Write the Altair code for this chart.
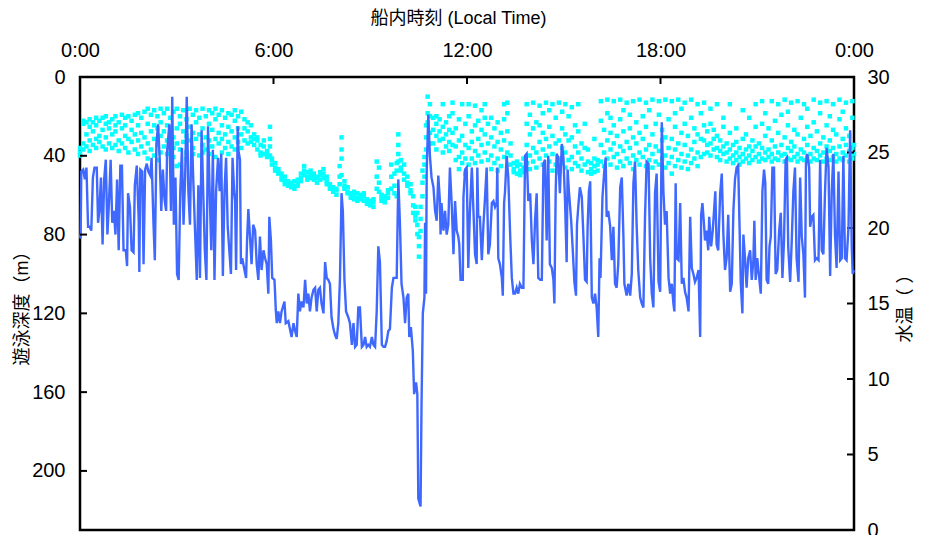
import altair as alt
import pandas as pd

# ---- data (hour of day, swimming depth in m) ----
DEPTH_SAMPLES = [
    (0.00, 80), (0.02, 82), (0.04, 48), (0.10, 47), (0.15, 52), (0.20, 46), (0.25, 76), (0.30, 76),
    (0.35, 78), (0.40, 51), (0.45, 46), (0.52, 46), (0.56, 74), (0.60, 68), (0.65, 51), (0.70, 85),
    (0.75, 52), (0.80, 42), (0.85, 80), (0.90, 63), (0.95, 42), (1.00, 74), (1.05, 68), (1.10, 80),
    (1.15, 52), (1.20, 88), (1.25, 45), (1.30, 45), (1.35, 88), (1.42, 88), (1.46, 96), (1.49, 59),
    (1.55, 66), (1.60, 88), (1.66, 89), (1.70, 55), (1.76, 45), (1.82, 72), (1.84, 99), (1.87, 47),
    (1.93, 48), (1.97, 95), (2.02, 47), (2.07, 44), (2.12, 48), (2.18, 50), (2.22, 41), (2.28, 75),
    (2.32, 93), (2.37, 34), (2.42, 24), (2.47, 41), (2.52, 68), (2.57, 47), (2.62, 62), (2.67, 68),
    (2.70, 38), (2.77, 24), (2.82, 68), (2.86, 10), (2.91, 75), (2.96, 51), (3.01, 100), (3.06, 103),
    (3.11, 58), (3.16, 36), (3.21, 75), (3.26, 51), (3.31, 10), (3.36, 58), (3.41, 75), (3.46, 24),
    (3.51, 51), (3.56, 75), (3.62, 103), (3.67, 55), (3.72, 102), (3.77, 27), (3.82, 58), (3.87, 88),
    (3.92, 103), (3.97, 25), (4.02, 58), (4.07, 88), (4.12, 37), (4.17, 103), (4.22, 58), (4.28, 41),
    (4.33, 58), (4.38, 39), (4.43, 101), (4.48, 58), (4.53, 41), (4.58, 76), (4.63, 88), (4.68, 100),
    (4.73, 41), (4.78, 58),
    (4.81, 63), (4.84, 98), (4.89, 25), (4.91, 37), (4.96, 42), (4.99, 95), (5.03, 92), (5.10, 98),
    (5.15, 102), (5.18, 83), (5.22, 67), (5.27, 81), (5.32, 95), (5.37, 75), (5.43, 78), (5.48, 95),
    (5.53, 103), (5.58, 81), (5.63, 98), (5.69, 88), (5.74, 92), (5.79, 95), (5.84, 110), (5.87, 71),
    (5.92, 83), (5.96, 102), (6.03, 103), (6.05, 110), (6.07, 118), (6.10, 125), (6.15, 119), (6.20, 125),
    (6.25, 119), (6.34, 114), (6.38, 125), (6.46, 124), (6.51, 128), (6.56, 132), (6.62, 125), (6.67, 129),
    (6.72, 132), (6.77, 110), (6.82, 119), (6.87, 114), (6.93, 117), (6.98, 103), (7.03, 115), (7.08, 110),
    (7.13, 119), (7.18, 112), (7.24, 108), (7.29, 107), (7.34, 119), (7.39, 108), (7.44, 107), (7.49, 115),
    (7.55, 120), (7.60, 94), (7.65, 102), (7.70, 103), (7.75, 105), (7.80, 122), (7.86, 128), (7.91, 131),
    (7.96, 133), (8.01, 125), (8.06, 103), (8.11, 59), (8.15, 68), (8.20, 103), (8.25, 119), (8.32, 122),
    (8.37, 125), (8.43, 136), (8.48, 125), (8.53, 137), (8.58, 136), (8.63, 117), (8.68, 117), (8.74, 137),
    (8.79, 136), (8.84, 132), (8.89, 137), (8.94, 136), (8.99, 137), (9.05, 132), (9.10, 136), (9.15, 137),
    (9.20, 119), (9.25, 86), (9.30, 94), (9.36, 136), (9.41, 137), (9.46, 137), (9.51, 134), (9.56, 129),
    (9.61, 128), (9.67, 107), (9.72, 102), (9.77, 102),
    (9.82, 102), (9.87, 52), (9.92, 74), (9.97, 105), (10.03, 112), (10.08, 125), (10.13, 112), (10.18, 110),
    (10.21, 132), (10.26, 127), (10.32, 139), (10.36, 161), (10.42, 155), (10.46, 161), (10.49, 214),
    (10.56, 218), (10.59, 166), (10.63, 120), (10.68, 112), (10.70, 74), (10.73, 110), (10.75, 48),
    (10.80, 19), (10.85, 40), (10.90, 51), (10.96, 56), (11.01, 68), (11.06, 73), (11.11, 50), (11.16, 63),
    (11.18, 80), (11.21, 64), (11.27, 78), (11.32, 68), (11.37, 80), (11.42, 75), (11.47, 46), (11.53, 66),
    (11.58, 90), (11.63, 63), (11.68, 78), (11.73, 81), (11.76, 85), (11.80, 103), (11.87, 103), (11.89, 61),
    (11.94, 47), (11.99, 46), (12.04, 97), (12.09, 68), (12.15, 46), (12.20, 68), (12.25, 90), (12.30, 95),
    (12.32, 46), (12.35, 71), (12.40, 71), (12.46, 93), (12.51, 75), (12.56, 61), (12.61, 46), (12.66, 90),
    (12.71, 85), (12.77, 64), (12.82, 63), (12.87, 66), (12.92, 64), (12.94, 46), (12.97, 92), (13.02, 95),
    (13.08, 102), (13.11, 111), (13.15, 64), (13.18, 58), (13.23, 40), (13.28, 51), (13.34, 81), (13.39, 102),
    (13.44, 110), (13.49, 110), (13.54, 107), (13.59, 110), (13.64, 105), (13.70, 107), (13.75, 107),
    (13.80, 40), (13.85, 39), (13.90, 63), (13.96, 59), (14.01, 83), (14.06, 95), (14.11, 73), (14.16, 59),
    (14.21, 102), (14.27, 103), (14.32, 103), (14.37, 44), (14.42, 42), (14.47, 83), (14.52, 40),
    (14.57, 95), (14.63, 97), (14.68, 103), (14.71, 115), (14.75, 58), (14.78, 39), (14.83, 41), (14.88, 59),
    (14.94, 34), (14.99, 41), (15.04, 63), (15.09, 94), (15.12, 47), (15.16, 58), (15.23, 73), (15.28, 88),
    (15.33, 104), (15.38, 111), (15.41, 75), (15.45, 66), (15.50, 56), (15.56, 61), (15.61, 81), (15.66, 103),
    (15.71, 104), (15.74, 76), (15.78, 58), (15.82, 53), (15.87, 112), (15.92, 115), (15.97, 110), (16.02, 117),
    (16.07, 132), (16.11, 92), (16.14, 102), (16.20, 61), (16.26, 47), (16.30, 41), (16.33, 71), (16.38, 68),
    (16.44, 76), (16.49, 93), (16.54, 76), (16.59, 105), (16.64, 107), (16.69, 95), (16.75, 56), (16.80, 51),
    (16.85, 81), (16.88, 105), (16.95, 111), (17.00, 105), (17.06, 111), (17.11, 100), (17.16, 54), (17.21, 43),
    (17.26, 75), (17.31, 98), (17.37, 112), (17.42, 115), (17.47, 117), (17.52, 71), (17.57, 43), (17.63, 44),
    (17.68, 92), (17.73, 110), (17.78, 117), (17.83, 59), (17.88, 49), (17.94, 104), (17.99, 109), (18.04, 23),
    (18.09, 58), (18.14, 75), (18.19, 68), (18.25, 102), (18.30, 110), (18.35, 105), (18.40, 115), (18.43, 119),
    (18.47, 54), (18.50, 92), (18.56, 93), (18.61, 64), (18.66, 105), (18.71, 102), (18.76, 109), (18.81, 112),
    (18.87, 119), (18.92, 71), (18.97, 97), (19.02, 100), (19.07, 104), (19.12, 102), (19.18, 98), (19.23, 132),
    (19.26, 70),
    (19.30, 64), (19.35, 75), (19.38, 83), (19.43, 78), (19.48, 88), (19.51, 71), (19.57, 86), (19.62, 78),
    (19.66, 68), (19.70, 58), (19.74, 85), (19.79, 88), (19.85, 59), (19.90, 49), (19.95, 80), (20.00, 98),
    (20.05, 92), (20.10, 70), (20.16, 109), (20.21, 105), (20.26, 68), (20.31, 52), (20.36, 46), (20.41, 45),
    (20.45, 75), (20.49, 105), (20.54, 120), (20.57, 80), (20.62, 92), (20.67, 107), (20.72, 92), (20.78, 88),
    (20.83, 103), (20.88, 93), (20.91, 73), (20.95, 103), (21.00, 92), (21.06, 102), (21.11, 110), (21.16, 58),
    (21.21, 47), (21.25, 54), (21.29, 103), (21.34, 105), (21.38, 86), (21.42, 81), (21.47, 46), (21.52, 46),
    (21.57, 100), (21.62, 98), (21.68, 78), (21.73, 69), (21.78, 102), (21.83, 83), (21.88, 42), (21.92, 41),
    (21.96, 86), (22.02, 104), (22.07, 83), (22.12, 58), (22.17, 46), (22.22, 92), (22.28, 104), (22.33, 51),
    (22.38, 81), (22.43, 90), (22.48, 112), (22.51, 44), (22.55, 39), (22.61, 46), (22.64, 76), (22.69, 71),
    (22.74, 70), (22.79, 93), (22.84, 92), (22.90, 93), (22.95, 42), (23.00, 88), (23.05, 90), (23.10, 59),
    (23.15, 36), (23.21, 46), (23.26, 101), (23.31, 58), (23.36, 39), (23.41, 80), (23.46, 97), (23.52, 48),
    (23.57, 93), (23.62, 92), (23.67, 40), (23.72, 92), (23.77, 93), (23.83, 76), (23.88, 27), (23.93, 86),
    (23.96, 100), (24.00, 98),
]

# ---- water temperature samples (hour of day, readings in deg C) ----
TEMP_SAMPLES = [
    (0.00, [25.0, 25.3, 24.8]), (0.10, [25.2, 26.9, 27.1, 25.6]), (0.20, [26.2, 27.0, 25.4]),
    (0.30, [25.8, 26.7, 27.2, 25.1]), (0.40, [26.4, 27.0, 25.5]), (0.50, [25.9, 26.8, 27.3, 25.3]),
    (0.60, [26.1, 27.1, 25.7]), (0.70, [25.4, 26.5, 27.3]), (0.80, [26.0, 26.9, 25.2, 27.4]),
    (0.90, [25.6, 26.6, 27.0]), (1.00, [25.3, 26.2, 27.2]), (1.10, [26.4, 25.5, 27.4, 26.8]),
    (1.20, [25.8, 27.0, 25.1]), (1.30, [26.6, 27.5, 25.6]), (1.40, [25.3, 26.1, 27.3, 26.8]),
    (1.50, [25.9, 27.4, 25.0]), (1.60, [26.5, 27.1, 25.7]), (1.70, [25.2, 26.2, 27.5]),
    (1.80, [25.8, 26.8, 27.6, 24.9]), (1.90, [26.3, 27.3, 25.4]), (2.00, [25.0, 26.0, 27.7]),
    (2.10, [25.6, 26.9, 27.9, 24.6]), (2.20, [26.4, 27.5, 25.2]), (2.30, [24.8, 25.9, 27.8, 26.8]),
    (2.40, [25.5, 26.6, 27.4, 24.5]), (2.50, [26.1, 27.0, 27.9, 25.0]), (2.60, [25.4, 26.4, 27.6]),
    (2.70, [24.9, 26.8, 27.9, 25.8]), (2.80, [25.5, 26.3, 27.3]), (2.90, [24.7, 26.0, 27.7, 25.3]),
    (3.00, [24.1, 25.6, 26.6, 27.9]), (3.10, [24.2, 25.2, 26.9, 27.4]), (3.20, [25.7, 26.4, 27.8]),
    (3.30, [25.0, 26.1, 27.2, 24.6]), (3.40, [25.8, 26.7, 27.9]), (3.50, [25.3, 26.3, 27.5, 24.9]),
    (3.60, [25.9, 27.0, 27.8]), (3.70, [24.8, 26.2, 27.3]), (3.80, [25.5, 26.6, 27.9, 25.0]),
    (3.90, [25.2, 26.0, 27.4]), (4.00, [24.9, 25.8, 26.9, 27.8]), (4.10, [25.4, 26.5, 27.6]),
    (4.20, [24.7, 25.9, 27.2, 27.9]), (4.30, [25.6, 26.3, 27.5]), (4.40, [25.0, 26.8, 27.8, 25.9]),
    (4.50, [25.3, 26.2, 27.3]), (4.60, [24.9, 25.7, 26.7, 27.6]), (4.70, [25.4, 26.4, 27.5]),
    (4.80, [25.2, 26.0, 27.1, 27.8]), (4.90, [25.7, 26.6, 27.4]), (5.00, [25.3, 26.2, 27.7]),
    (5.10, [25.8, 26.6, 27.2]), (5.20, [25.6, 26.4, 27.0]), (5.30, [26.0, 26.8, 25.7]),
    (5.40, [25.5, 26.2, 25.9]), (5.50, [25.2, 25.8, 26.0]), (5.60, [25.0, 25.5, 24.8]),
    (5.70, [24.9, 25.4, 25.8]), (5.80, [24.7, 25.1, 24.9]), (5.89, [26.7, 25.9, 25.4, 24.8]),
    (5.95, [24.6, 24.2, 24.5]), (6.05, [24.0, 23.8, 24.3]), (6.15, [23.7, 23.9, 23.6]),
    (6.25, [23.4, 23.6, 23.2]), (6.35, [23.1, 23.4, 22.9]), (6.45, [22.8, 23.1, 22.9]),
    (6.55, [22.7, 22.9, 23.0]), (6.65, [22.8, 23.1, 22.6]), (6.75, [23.0, 23.2, 22.8]),
    (6.85, [23.3, 23.6, 23.1]), (6.95, [23.5, 23.8, 24.1]), (7.05, [23.4, 23.7, 23.2]),
    (7.15, [23.5, 23.3, 23.8]), (7.25, [23.2, 23.6, 23.4]), (7.35, [23.0, 23.4, 23.3]),
    (7.45, [23.5, 23.2, 23.7]), (7.55, [23.6, 23.3, 23.9]), (7.65, [23.1, 22.9, 23.4]),
    (7.75, [22.8, 22.6, 22.9]), (7.85, [22.4, 22.7, 22.5]), (7.95, [22.2, 22.5, 22.6]),
    (8.05, [22.9, 23.4, 24.1]), (8.11, [26.0, 25.2, 24.6, 23.5]), (8.20, [22.8, 23.1, 22.6]),
    (8.30, [22.4, 22.7, 22.3]), (8.40, [22.1, 22.3, 22.0]), (8.50, [22.2, 21.9, 22.4]),
    (8.60, [22.0, 22.3, 21.8]), (8.70, [21.9, 22.2, 22.0]), (8.80, [22.1, 21.8, 22.3]),
    (8.90, [21.6, 21.9, 21.7]), (9.00, [21.5, 21.8, 21.6]), (9.10, [21.4, 21.7, 21.9]),
    (9.20, [22.6, 23.4, 24.4]), (9.27, [23.0, 24.0, 22.4]), (9.35, [22.0, 21.8, 22.2]),
    (9.45, [21.9, 22.1, 21.7]), (9.55, [22.3, 22.0, 22.5]), (9.65, [23.4, 24.2, 22.6]),
    (9.75, [22.3, 22.8, 23.6]), (9.82, [23.8, 24.3, 22.1]), (9.87, [26.2, 25.5, 24.9, 24.4]),
    (9.95, [24.0, 23.8, 24.5]), (10.05, [23.6, 24.2, 23.2]), (10.15, [23.0, 22.8, 23.4]),
    (10.25, [22.5, 22.9, 22.3]), (10.33, [22.1, 21.5, 21.0]), (10.40, [20.8, 21.4, 20.5]),
    (10.46, [19.6, 20.2, 21.0]), (10.51, [18.1, 18.8, 19.4]), (10.56, [21.4, 20.6, 19.8]),
    (10.62, [22.1, 23.0, 23.8]), (10.68, [24.7, 24.2, 23.4]), (10.73, [25.2, 26.0, 26.8]),
    (10.78, [27.6, 28.7, 27.0]), (10.85, [28.2, 27.4, 26.3, 25.6]), (10.95, [25.6, 26.5, 27.3]),
    (11.05, [25.2, 26.1, 26.9, 27.4]), (11.15, [25.8, 26.4, 27.2]), (11.25, [25.0, 25.9, 26.7, 28.2]),
    (11.35, [25.4, 26.2, 27.0]), (11.45, [25.1, 25.7, 26.5, 27.4]), (11.55, [25.5, 26.3, 27.6, 28.3]),
    (11.65, [24.5, 25.4, 26.6]), (11.75, [23.9, 24.7, 25.8, 27.2]), (11.85, [24.3, 25.0, 26.1, 28.2]),
    (11.95, [23.6, 24.6, 25.5, 26.9]), (12.05, [24.2, 25.3, 27.4, 28.2]), (12.15, [24.6, 25.7, 26.4]),
    (12.25, [24.3, 25.1, 26.8, 28.1]), (12.35, [24.8, 25.9, 27.1]), (12.45, [24.4, 25.5, 26.5, 27.8]),
    (12.55, [25.0, 26.2, 27.3, 28.2]), (12.65, [24.5, 25.6, 26.9]), (12.75, [23.9, 24.8, 26.0, 27.3]),
    (12.85, [24.3, 25.4, 26.6]), (12.95, [23.8, 24.6, 25.7, 27.0]), (13.05, [24.1, 25.2, 26.3]),
    (13.15, [24.7, 25.8, 27.2, 28.2]), (13.25, [25.0, 26.4, 27.6, 28.3]), (13.35, [24.2, 24.8, 25.6]),
    (13.45, [23.9, 24.3, 23.7]), (13.55, [23.6, 24.1, 24.4]), (13.65, [23.8, 24.2, 23.5]),
    (13.75, [24.0, 24.6, 23.7]), (13.85, [24.3, 25.5, 26.9, 28.2]), (13.95, [23.9, 24.8, 26.2, 27.5]),
    (14.05, [24.4, 25.3, 26.6, 28.3]), (14.15, [24.0, 25.0, 27.0]), (14.25, [24.6, 25.7, 26.8, 28.1]),
    (14.35, [24.2, 25.2, 26.3, 27.6]), (14.45, [24.8, 25.9, 28.3]), (14.55, [24.4, 25.4, 26.7, 27.8]),
    (14.65, [23.8, 24.9, 26.1, 28.2]), (14.75, [24.2, 25.6, 27.3]), (14.85, [23.7, 24.6, 25.8, 28.3]),
    (14.95, [24.3, 25.3, 26.6, 27.7]), (15.05, [24.0, 25.0, 26.2, 28.2]), (15.15, [24.5, 25.8, 27.4]),
    (15.25, [23.9, 24.7, 26.0, 28.0]), (15.35, [24.3, 25.4, 26.8]), (15.45, [24.1, 25.0, 26.4, 28.2]),
    (15.55, [23.8, 24.6, 25.6]), (15.65, [24.2, 25.3, 26.9]), (15.75, [23.7, 24.4, 25.2]),
    (15.85, [23.6, 23.9, 24.3]), (15.95, [23.7, 24.1, 24.6, 25.9]), (16.05, [23.8, 24.2, 24.5]),
    (16.15, [24.4, 25.5, 27.1, 28.4]), (16.25, [24.1, 25.0, 26.5]), (16.35, [24.6, 25.8, 27.6, 28.5]),
    (16.45, [24.2, 25.2, 26.3, 27.3]), (16.55, [24.7, 25.6, 26.8, 28.4]), (16.65, [24.0, 24.9, 26.1]),
    (16.75, [24.4, 25.4, 27.2, 28.5]), (16.85, [24.1, 25.1, 26.4, 27.8]), (16.95, [24.6, 25.7, 28.3]),
    (17.05, [24.3, 25.3, 26.6, 27.5]), (17.15, [23.9, 24.8, 26.0, 28.4]), (17.25, [24.5, 25.6, 27.0]),
    (17.35, [24.2, 25.0, 26.3, 28.5]), (17.45, [24.7, 25.9, 27.4]), (17.55, [24.1, 25.2, 26.7, 28.3]),
    (17.65, [24.5, 25.5, 27.8]), (17.75, [24.0, 24.9, 26.2, 28.5]), (17.85, [24.4, 25.4, 26.9]),
    (17.95, [24.2, 25.1, 27.5, 28.4]), (18.05, [24.6, 25.8, 26.5]), (18.15, [24.0, 24.8, 26.0, 28.5]),
    (18.25, [24.3, 25.3, 27.2]), (18.35, [23.6, 24.7, 25.9, 28.4]), (18.45, [24.1, 25.2, 26.7, 27.6]),
    (18.55, [24.5, 25.6, 28.5]), (18.65, [24.0, 24.9, 26.3, 27.9]), (18.75, [24.4, 25.5, 26.9, 28.3]),
    (18.85, [23.9, 24.8, 26.1]), (18.95, [24.3, 25.2, 27.3, 28.5]), (19.05, [24.6, 25.7, 26.6]),
    (19.15, [24.1, 25.0, 26.2, 28.2]), (19.25, [24.7, 25.9, 27.6]), (19.35, [24.9, 25.8, 26.8, 28.3]),
    (19.45, [25.0, 25.5, 26.4]), (19.55, [24.8, 25.6, 26.9, 27.9]), (19.65, [25.2, 25.9, 26.5]),
    (19.75, [24.7, 25.3, 26.1, 28.2]), (19.85, [24.5, 25.1, 25.8]), (19.95, [24.9, 25.4, 26.7, 27.3]),
    (20.05, [24.4, 25.0, 25.6]), (20.15, [24.6, 25.2, 26.3, 28.2]), (20.25, [24.3, 24.8, 25.5]),
    (20.35, [24.5, 25.0, 25.7, 26.6]), (20.45, [24.2, 24.7, 25.3]), (20.55, [24.4, 24.9, 25.9, 27.8]),
    (20.65, [24.6, 25.2, 26.2]), (20.75, [24.3, 24.8, 25.4, 27.3]), (20.85, [24.5, 25.1, 25.8]),
    (20.95, [24.7, 25.4, 26.7, 28.2]), (21.05, [24.4, 24.9, 25.6]), (21.15, [24.6, 25.3, 26.9, 28.4]),
    (21.25, [24.5, 25.0, 26.1, 27.6]), (21.35, [24.7, 25.2, 26.6]), (21.45, [24.4, 24.9, 25.8, 28.4]),
    (21.55, [24.6, 25.4, 27.1]), (21.65, [24.5, 25.0, 26.3, 28.2]), (21.75, [24.8, 25.5, 27.5]),
    (21.85, [24.4, 24.9, 26.0, 28.5]), (21.95, [24.6, 25.3, 26.8, 27.7]), (22.05, [24.5, 25.1, 25.7, 28.3]),
    (22.15, [24.7, 25.4, 26.5]), (22.25, [24.4, 24.9, 26.2, 28.4]), (22.35, [24.6, 25.2, 27.3]),
    (22.45, [24.5, 25.0, 25.9, 28.2]), (22.55, [24.7, 25.5, 26.7, 27.9]), (22.65, [24.4, 24.9, 26.1]),
    (22.75, [24.6, 25.3, 27.0, 28.5]), (22.85, [24.5, 25.1, 26.4]), (22.95, [24.8, 25.6, 27.6, 28.3]),
    (23.05, [24.4, 25.0, 26.0]), (23.15, [24.6, 25.4, 26.8, 28.4]), (23.25, [24.5, 25.1, 25.8, 27.4]),
    (23.35, [24.7, 25.3, 26.5, 28.2]), (23.45, [24.4, 24.9, 26.2]), (23.55, [24.6, 25.4, 27.2, 28.5]),
    (23.65, [24.5, 25.0, 25.9, 27.7]), (23.75, [24.8, 25.5, 26.6, 28.3]), (23.85, [24.4, 25.1, 26.1]),
    (23.95, [24.6, 25.3, 27.3, 28.4]), (24.00, [24.9, 25.5]),
]

X_TICKS = [0, 6, 12, 18, 24]
DEPTH_TICKS = [0, 40, 80, 120, 160, 200]
TEMP_TICKS = [0, 5, 10, 15, 20, 25, 30]

X_TITLE = "船内時刻 (Local Time)"
DEPTH_TITLE = "遊泳深度（m）"
TEMP_TITLE = "水温（ ）"

W, H = 774, 453
LABEL_FONT = "Liberation Sans Narrow, Arial Narrow, Liberation Sans, Arial, sans-serif"
TITLE_FONT = "Liberation Sans, Noto Sans CJK JP, sans-serif"
LINE_BLUE = "#3F68FF"
DOT_CYAN = "#00FFFF"

depth_df = pd.DataFrame(DEPTH_SAMPLES, columns=["hour", "depth"])
temp_df = pd.DataFrame([(h, t) for h, ts in TEMP_SAMPLES for t in ts], columns=["hour", "temp"])
xtick_df = pd.DataFrame({"hour": X_TICKS[1:-1]})
dtick_df = pd.DataFrame({"depth": DEPTH_TICKS[1:]})
ttick_df = pd.DataFrame({"temp": TEMP_TICKS[1:-1]})

x_scale = alt.Scale(domain=[0, 24], nice=False, zero=False)
depth_scale = alt.Scale(domain=[0, 230], reverse=True, nice=False, zero=False)
temp_scale = alt.Scale(domain=[0, 30], nice=False, zero=False)

x_axis = alt.Axis(
    orient="top", values=X_TICKS, labelExpr="(datum.value % 24) + ':00'",
    title=X_TITLE, ticks=False, domain=False, grid=False, labelPadding=17,
    labelFlush=False, labelOverlap=False, titleX=378, titleY=-59,
    titleBaseline="middle", titleAlign="center",
)
depth_axis = alt.Axis(
    orient="left", values=DEPTH_TICKS, title=DEPTH_TITLE, ticks=False, domain=False,
    grid=False, labelPadding=15, labelFlush=False, labelOverlap=False,
    titleAngle=270, titleX=-58, titleY=H / 2, titleBaseline="middle", titleAlign="center",
)
temp_axis = alt.Axis(
    orient="right", values=TEMP_TICKS, title=TEMP_TITLE, ticks=False, domain=False,
    grid=False, labelPadding=13, labelFlush=False, labelOverlap=False,
    titleAngle=270, titleX=51, titleY=H / 2, titleBaseline="middle", titleAlign="center",
)

temp_points = alt.Chart(temp_df).mark_square(size=20, opacity=1, color=DOT_CYAN).encode(
    x=alt.X("hour:Q", scale=x_scale, axis=x_axis),
    y=alt.Y("temp:Q", scale=temp_scale, axis=temp_axis),
)
temp_ticks = alt.Chart(ttick_df).mark_rule(color="black", strokeWidth=2).encode(
    y=alt.Y("temp:Q", scale=temp_scale, axis=temp_axis),
    x=alt.value(W), x2=alt.value(W - 7),
)
depth_line = alt.Chart(depth_df).mark_line(color=LINE_BLUE, strokeWidth=2.4).encode(
    x=alt.X("hour:Q", scale=x_scale, axis=x_axis),
    y=alt.Y("depth:Q", scale=depth_scale, axis=depth_axis),
    order="hour:Q",
)
depth_ticks = alt.Chart(dtick_df).mark_rule(color="black", strokeWidth=2).encode(
    y=alt.Y("depth:Q", scale=depth_scale, axis=depth_axis),
    x=alt.value(0), x2=alt.value(7),
)
x_ticks = alt.Chart(xtick_df).mark_rule(color="black", strokeWidth=2).encode(
    x=alt.X("hour:Q", scale=x_scale, axis=x_axis),
    y=alt.value(0), y2=alt.value(7),
)

right = alt.layer(temp_points, temp_ticks)
left = alt.layer(depth_line, depth_ticks, x_ticks)

chart = (
    alt.layer(right, left)
    .resolve_scale(y="independent")
    .properties(
        width=W, height=H,
        autosize=alt.AutoSizeParams(type="none"),
        padding={"left": 72, "top": 69, "right": 65, "bottom": 6},
        background="white",
    )
    .configure_view(stroke="black", strokeWidth=2.5)
    .configure_axis(
        labelFont=LABEL_FONT, labelFontSize=20, labelColor="black",
        titleFont=TITLE_FONT, titleFontSize=18, titleFontWeight="normal", titleColor="black",
    )
)

chart.save("out.html", embed_options={"renderer": "svg", "actions": False})
